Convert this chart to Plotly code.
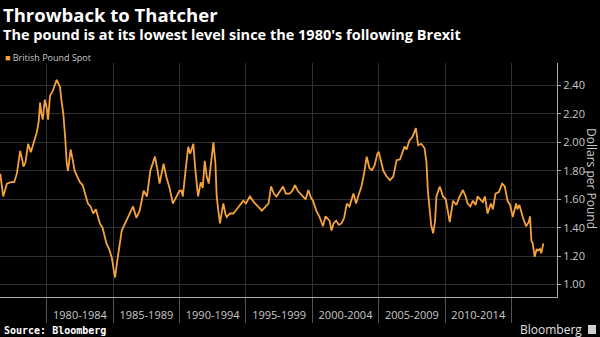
import plotly.graph_objects as go

# ---------------- data ----------------
years = [
    1976.50, 1976.60, 1976.72, 1976.85, 1977.00, 1977.30, 1977.55, 1977.75, 1977.90, 1978.00,
    1978.15, 1978.25, 1978.40, 1978.60, 1978.80, 1979.00, 1979.25, 1979.40, 1979.50, 1979.60,
    1979.70, 1979.85, 1980.00, 1980.10, 1980.25, 1980.45, 1980.60, 1980.75, 1980.90, 1981.00,
    1981.10, 1981.25, 1981.40, 1981.50, 1981.60, 1981.70, 1981.80, 1981.95, 1982.10, 1982.30,
    1982.50, 1982.70, 1982.90, 1983.10, 1983.30, 1983.50, 1983.70, 1984.00, 1984.20, 1984.50,
    1984.70, 1984.90, 1985.05, 1985.15, 1985.30, 1985.45, 1985.65, 1985.85, 1986.00, 1986.25,
    1986.50, 1986.75, 1987.00, 1987.30, 1987.55, 1987.80, 1988.00, 1988.15, 1988.35, 1988.50,
    1988.65, 1988.80, 1989.00, 1989.25, 1989.50, 1989.75, 1990.00, 1990.15, 1990.25, 1990.45,
    1990.66, 1990.80, 1991.04, 1991.20, 1991.40, 1991.60, 1991.75, 1991.90, 1992.05, 1992.20,
    1992.40, 1992.55, 1992.70, 1992.80, 1992.95, 1993.05, 1993.20, 1993.30, 1993.45, 1993.55,
    1993.80, 1994.05, 1994.40, 1994.80, 1995.00, 1995.30, 1995.60, 1995.90, 1996.20, 1996.50,
    1996.70, 1996.90, 1997.10, 1997.30, 1997.55, 1997.80, 1998.00, 1998.30, 1998.50, 1998.70,
    1998.90, 1999.10, 1999.30, 1999.50, 1999.70, 1999.90, 2000.05, 2000.30, 2000.55, 2000.80,
    2001.00, 2001.30, 2001.45, 2001.60, 2001.80, 2002.00, 2002.20, 2002.40, 2002.60, 2002.80,
    2003.10, 2003.30, 2003.45, 2003.70, 2003.90, 2004.10, 2004.30, 2004.50, 2004.70, 2004.90,
    2005.00, 2005.20, 2005.35, 2005.60, 2005.85, 2006.10, 2006.35, 2006.60, 2006.95, 2007.10,
    2007.30, 2007.55, 2007.80, 2007.97, 2008.20, 2008.45, 2008.60, 2008.70, 2008.85, 2008.95,
    2009.10, 2009.25, 2009.35, 2009.60, 2009.85, 2010.05, 2010.20, 2010.35, 2010.60, 2010.85,
    2011.10, 2011.35, 2011.55, 2011.70, 2011.90, 2012.10, 2012.30, 2012.45, 2012.65, 2012.85,
    2013.00, 2013.20, 2013.45, 2013.60, 2013.80, 2014.05, 2014.30, 2014.50, 2014.70, 2014.90,
    2015.10, 2015.35, 2015.45, 2015.60, 2015.85, 2016.10, 2016.30, 2016.40, 2016.50, 2016.60,
    2016.75, 2016.90, 2017.00, 2017.15, 2017.25, 2017.40,
]
usd_per_gbp = [
    1.78, 1.72, 1.62, 1.66, 1.71, 1.72, 1.72, 1.78, 1.90, 1.94,
    1.88, 1.83, 1.86, 1.99, 1.93, 2.00, 2.07, 2.15, 2.28, 2.20,
    2.16, 2.30, 2.24, 2.16, 2.33, 2.36, 2.40, 2.44, 2.41, 2.39,
    2.30, 2.20, 2.02, 1.86, 1.80, 1.86, 1.95, 1.88, 1.80, 1.76,
    1.72, 1.70, 1.64, 1.57, 1.55, 1.50, 1.53, 1.43, 1.40, 1.29,
    1.25, 1.19, 1.10, 1.05, 1.16, 1.26, 1.38, 1.42, 1.45, 1.50,
    1.55, 1.47, 1.52, 1.66, 1.62, 1.80, 1.86, 1.90, 1.80, 1.71,
    1.78, 1.85, 1.76, 1.68, 1.57, 1.62, 1.66, 1.66, 1.62, 1.80,
    1.97, 1.92, 1.99, 1.80, 1.62, 1.72, 1.68, 1.87, 1.76, 1.71,
    1.88, 2.00, 1.86, 1.62, 1.50, 1.43, 1.52, 1.57, 1.50, 1.475,
    1.50, 1.50, 1.54, 1.59, 1.57, 1.62, 1.58, 1.55, 1.52, 1.55,
    1.57, 1.69, 1.64, 1.62, 1.66, 1.69, 1.64, 1.64, 1.66, 1.70,
    1.66, 1.64, 1.62, 1.60, 1.665, 1.61, 1.59, 1.52, 1.475, 1.41,
    1.48, 1.45, 1.38, 1.43, 1.45, 1.42, 1.43, 1.47, 1.57, 1.55,
    1.64, 1.57, 1.62, 1.69, 1.78, 1.90, 1.82, 1.805, 1.84, 1.92,
    1.935, 1.86, 1.80, 1.76, 1.735, 1.76, 1.875, 1.88, 1.97, 1.95,
    2.01, 2.04, 2.10, 1.98, 1.99, 1.96, 1.86, 1.665, 1.50, 1.42,
    1.36, 1.45, 1.62, 1.69, 1.62, 1.60, 1.52, 1.44, 1.59, 1.56,
    1.62, 1.665, 1.62, 1.57, 1.55, 1.59, 1.56, 1.62, 1.60, 1.58,
    1.62, 1.50, 1.57, 1.53, 1.64, 1.65, 1.71, 1.69, 1.59, 1.56,
    1.475, 1.57, 1.53, 1.56, 1.475, 1.41, 1.44, 1.48, 1.31, 1.29,
    1.195, 1.25, 1.24, 1.25, 1.22, 1.29,
]
period_bounds = [1980, 1985, 1990, 1995, 2000, 2005, 2010, 2015]
period_mids = [1982.5, 1987.5, 1992.5, 1997.5, 2002.5, 2007.5, 2012.5]
period_labels = ["1980-1984", "1985-1989", "1990-1994", "1995-1999",
                 "2000-2004", "2005-2009", "2010-2014"]
y_ticks = [1.0, 1.2, 1.4, 1.6, 1.8, 2.0, 2.2, 2.4]
series_name = "British Pound Spot"

# ---------------- layout geometry ----------------
W, H = 600, 337
L, R, T, B = 0, 43, 63, 40
PW, PH = W - L - R, H - T - B


def px(x):
    return (x - L) / PW


def py(y):
    return (H - B - y) / PH


ORANGE = "#f5a23a"
GRID = "#303030"
AXIS = "#a8a8a8"
TXT = "#c8c8c8"
FONT = "Open Sans"
MONO = "DejaVu Sans Mono"

fig = go.Figure()
fig.add_trace(go.Scatter(
    x=years, y=usd_per_gbp, mode="lines", name=series_name,
    line=dict(color=ORANGE, width=1.8), showlegend=False,
))

fig.update_layout(
    width=W, height=H,
    margin=dict(l=L, r=R, t=T, b=B),
    paper_bgcolor="black", plot_bgcolor="black",
    font=dict(family=FONT, color=TXT),
    showlegend=False,
    xaxis=dict(
        range=[1976.48, 2018.43],
        tickmode="array", tickvals=period_mids, ticktext=period_labels,
        ticks="outside", ticklen=8, tickcolor="rgba(0,0,0,0)",
        tickfont=dict(size=11, color=TXT, family=FONT),
        showgrid=False, zeroline=False,
        showline=True, linecolor=AXIS, linewidth=1,
        minor=dict(tickmode="array", tickvals=period_bounds, ticks="outside",
                   ticklen=25, tickcolor="#555555", tickwidth=1,
                   showgrid=True, gridcolor=GRID, gridwidth=1),
    ),
    yaxis=dict(
        side="right", range=[0.913, 2.558],
        tickmode="array", tickvals=y_ticks,
        ticktext=[f"{v:.2f}" for v in y_ticks],
        ticks="outside", ticklen=3, tickcolor=AXIS,
        tickfont=dict(size=11, color=TXT, family=FONT),
        showgrid=True, gridcolor=GRID, gridwidth=1, zeroline=False,
        showline=True, linecolor=AXIS, linewidth=1,
    ),
)

ann = [
    dict(text="<b>Throwback to Thatcher</b>", x=px(1), y=py(14),
         font=dict(size=18.5, color="white", family=FONT)),
    dict(text="<b>The pound is at its lowest level since the 1980's following Brexit</b>",
         x=px(1), y=py(34), font=dict(size=14.5, color="white", family=FONT)),
    dict(text=f"<span style='color:{ORANGE}'>■</span> {series_name}", x=px(3), y=py(57),
         font=dict(size=9, color=TXT, family=FONT)),
    dict(text="<b>Source: Bloomberg</b>", x=px(2), y=py(330.5),
         font=dict(size=10, color="white", family=MONO)),
    dict(text="Bloomberg", x=px(584), y=py(329), xanchor="right",
         font=dict(size=12, color="#e0e0e0", family=FONT)),
]
for a in ann:
    a.setdefault("xanchor", "left")
    a.update(xref="paper", yref="paper", yanchor="middle", showarrow=False)
    fig.add_annotation(**a)

fig.add_annotation(text="Dollars per Pound", textangle=90, x=px(592), y=py(178),
                   xref="paper", yref="paper", xanchor="center", yanchor="middle",
                   showarrow=False, font=dict(size=12, color=TXT, family=FONT))

# small logo box next to "Bloomberg"
fig.add_shape(type="rect", xref="paper", yref="paper",
              x0=px(588), x1=px(596), y0=py(334), y1=py(325),
              fillcolor="#d0d0d0", line=dict(width=0))

fig.write_html("out.html")
